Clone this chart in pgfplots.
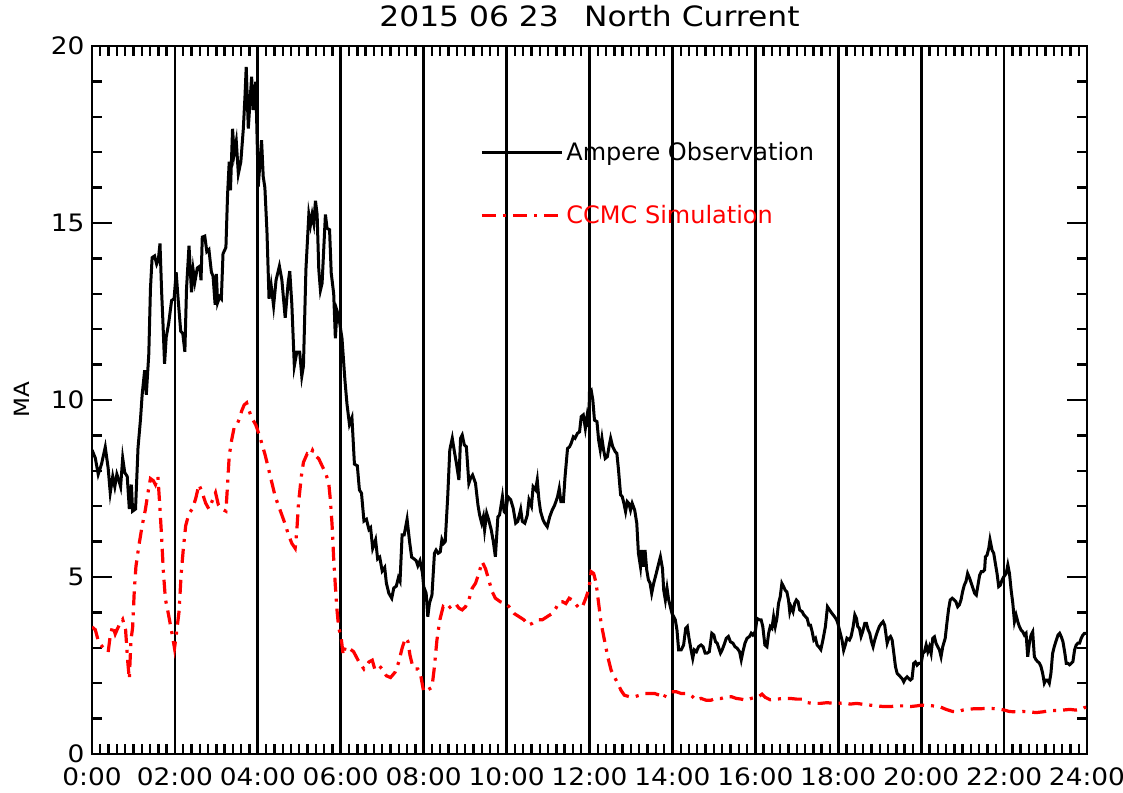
\documentclass[border=0pt]{standalone}
\usepackage{fontspec}
\setmainfont{DejaVu Sans}
\newfontfamily\tickfont{DejaVu Sans}[FakeStretch=1.1]
\newfontfamily\titlefont{DejaVu Sans}[FakeStretch=1.12]
\usepackage{pgfplots}
\usepackage{pgfplotstable}
\pgfplotsset{compat=1.18}

\pgfplotstableread{
h v
0 8.59
0.08 8.36
0.15 7.9
0.23 8.19
0.32 8.67
0.39 8.07
0.44 7.38
0.5 7.84
0.55 7.55
0.6 7.9
0.65 7.72
0.69 7.55
0.74 8.36
0.79 7.95
0.85 7.84
0.9 6.92
0.95 7.61
0.98 6.86
1.05 6.92
1.11 8.65
1.17 9.46
1.21 10.15
1.27 10.84
1.31 10.15
1.37 11.3
1.41 13.15
1.45 14.02
1.51 14.07
1.56 13.84
1.6 13.96
1.64 14.42
1.68 13.04
1.71 12.23
1.75 11.02
1.79 11.77
1.85 12.17
1.92 12.81
1.98 12.86
2.03 13.61
2.08 12.81
2.14 11.94
2.19 11.88
2.24 11.36
2.28 13.15
2.34 14.36
2.4 13.04
2.44 13.67
2.48 13.33
2.54 13.73
2.6 13.78
2.63 13.38
2.66 14.6
2.72 14.63
2.77 14.19
2.82 14.25
2.88 13.61
2.92 13.5
2.97 12.69
3.0 13.56
3.03 12.75
3.08 12.92
3.12 12.86
3.16 14.13
3.23 14.31
3.27 15.81
3.31 16.73
3.34 15.92
3.39 17.66
3.43 16.96
3.48 17.31
3.53 16.39
3.59 16.73
3.65 17.66
3.69 18.58
3.72 19.41
3.77 17.67
3.81 18.4
3.85 19.13
3.89 18.19
3.95 18.99
4.01 16.03
4.09 17.34
4.13 16.31
4.17 16.0
4.22 14.76
4.27 12.86
4.32 13.25
4.38 12.66
4.44 13.39
4.52 13.78
4.58 13.39
4.66 12.32
4.73 13.30
4.77 13.64
4.82 12.71
4.88 10.96
4.94 11.35
5.01 11.35
5.06 10.67
5.10 10.96
5.16 13.69
5.23 15.24
5.27 14.95
5.31 15.24
5.35 14.99
5.39 15.63
5.43 15.24
5.47 13.69
5.51 13.10
5.55 13.30
5.63 15.24
5.67 14.85
5.73 14.81
5.77 13.59
5.83 13.00
5.87 11.74
5.91 12.52
5.95 12.37
6.03 11.74
6.10 10.57
6.15 9.89
6.21 9.31
6.27 9.50
6.33 8.19
6.40 8.14
6.45 7.46
6.50 7.37
6.56 6.58
6.62 6.63
6.68 6.34
6.72 6.39
6.77 5.81
6.84 6.05
6.89 5.51
6.94 5.56
7.00 5.17
7.06 5.27
7.10 4.83
7.16 4.54
7.23 4.40
7.28 4.69
7.34 4.74
7.39 4.98
7.43 4.88
7.48 6.19
7.53 6.19
7.60 6.63
7.66 6.00
7.71 5.56
7.77 5.51
7.82 5.46
7.86 5.32
7.91 5.46
7.97 5.12
8.00 4.73
8.06 4.54
8.10 3.88
8.14 4.26
8.20 4.49
8.26 5.67
8.30 5.76
8.35 5.67
8.40 5.71
8.44 6.06
8.48 5.95
8.52 6.00
8.58 7.27
8.63 8.59
8.69 8.92
8.74 8.55
8.79 8.21
8.85 7.74
8.89 8.92
8.93 9.01
8.98 8.73
9.03 8.68
9.09 7.65
9.13 7.79
9.18 7.88
9.25 7.65
9.31 7.03
9.35 6.75
9.40 6.52
9.44 6.70
9.47 6.33
9.52 6.80
9.57 6.61
9.63 6.33
9.68 6.00
9.73 5.57
9.79 6.70
9.83 6.75
9.90 7.27
9.94 6.85
9.98 6.80
10.03 7.27
10.10 7.18
10.16 6.94
10.22 6.52
10.27 6.57
10.34 6.91
10.38 6.57
10.44 6.52
10.50 6.75
10.54 7.18
10.60 7.00
10.64 7.55
10.70 7.46
10.74 7.74
10.78 7.18
10.82 6.85
10.88 6.61
10.92 6.52
10.98 6.42
11.04 6.70
11.10 6.89
11.16 7.03
11.23 7.27
11.27 7.50
11.31 7.13
11.37 7.13
11.41 7.83
11.47 8.63
11.52 8.68
11.56 8.78
11.61 8.96
11.65 8.92
11.71 9.06
11.76 9.10
11.80 9.53
11.85 9.58
11.90 9.20
11.94 9.53
11.98 9.24
12.00 10.24
12.04 10.28
12.08 10.00
12.12 9.43
12.18 9.39
12.22 8.87
12.26 8.59
12.30 8.92
12.34 8.59
12.38 8.35
12.43 8.40
12.47 8.68
12.51 8.92
12.56 8.68
12.62 8.54
12.66 8.49
12.70 8.02
12.75 7.32
12.79 7.27
12.83 7.08
12.87 6.85
12.91 7.13
12.95 7.08
12.99 6.89
13.03 7.08
13.09 6.89
13.14 6.52
13.18 5.67
13.23 5.29
13.26 5.76
13.30 5.29
13.34 5.76
13.38 5.20
13.42 4.92
13.46 4.83
13.50 4.54
13.55 4.83
13.61 5.10
13.66 5.34
13.71 5.57
13.76 5.24
13.79 4.63
13.83 4.35
13.87 4.68
13.91 4.35
13.95 4.16
13.99 3.97
14.03 3.88
14.07 3.79
14.11 3.50
14.15 2.94
14.21 2.94
14.27 3.08
14.32 3.55
14.36 3.60
14.40 3.27
14.45 2.94
14.49 2.70
14.53 2.94
14.58 2.89
14.63 3.03
14.69 3.08
14.74 3.03
14.79 2.85
14.84 2.85
14.89 2.89
14.95 3.41
15.00 3.36
15.04 3.17
15.08 3.13
15.12 2.99
15.16 2.85
15.20 2.94
15.26 3.13
15.30 3.27
15.35 3.32
15.40 3.17
15.46 3.13
15.51 3.03
15.56 2.99
15.62 2.89
15.66 2.66
15.70 2.89
15.75 3.13
15.80 3.27
15.86 3.32
15.90 3.41
15.94 3.36
16.00 3.46
16.04 3.83
16.10 3.79
16.14 3.79
16.18 3.60
16.23 3.08
16.28 3.03
16.32 3.41
16.36 3.60
16.40 3.55
16.44 3.88
16.48 3.60
16.52 3.83
16.56 4.26
16.60 4.44
16.64 4.82
16.68 4.73
16.72 4.63
16.76 4.58
16.80 4.35
16.83 4.02
16.86 4.16
16.91 4.02
16.95 4.26
16.99 4.35
17.03 4.30
17.07 4.07
17.13 4.02
17.17 3.93
17.21 3.88
17.25 3.83
17.29 3.64
17.33 3.64
17.37 3.46
17.41 3.22
17.45 3.27
17.49 3.08
17.53 3.03
17.58 2.95
17.63 3.22
17.69 3.60
17.74 4.16
17.79 4.07
17.85 3.97
17.91 3.88
17.96 3.79
17.99 3.69
18.05 3.41
18.09 3.22
18.13 2.93
18.17 3.08
18.21 3.27
18.27 3.22
18.31 3.32
18.36 3.60
18.40 3.93
18.44 3.83
18.47 3.60
18.51 3.55
18.55 3.32
18.59 3.46
18.64 3.69
18.68 3.69
18.72 3.51
18.76 3.41
18.80 3.18
18.84 3.03
18.88 3.22
18.93 3.41
18.99 3.60
19.04 3.69
19.08 3.74
19.12 3.64
19.18 3.13
19.22 3.27
19.26 3.32
19.30 3.22
19.34 2.85
19.38 2.47
19.42 2.28
19.46 2.23
19.50 2.18
19.54 2.13
19.58 2.04
19.62 2.13
19.66 2.18
19.70 2.13
19.74 2.09
19.78 2.13
19.82 2.56
19.86 2.60
19.90 2.51
19.94 2.56
20.00 2.56
20.04 2.84
20.08 2.89
20.12 3.08
20.16 2.89
20.20 3.03
20.24 2.84
20.28 3.27
20.32 3.31
20.36 3.12
20.40 3.03
20.44 2.94
20.48 2.75
20.52 3.03
20.58 3.27
20.62 3.69
20.66 4.08
20.70 4.35
20.75 4.40
20.80 4.35
20.84 4.30
20.88 4.16
20.92 4.21
20.96 4.35
21.00 4.59
21.04 4.77
21.08 4.87
21.12 5.10
21.17 4.96
21.21 4.82
21.25 4.68
21.29 4.54
21.33 4.49
21.37 4.77
21.41 5.05
21.45 5.15
21.49 5.15
21.53 5.20
21.55 5.57
21.59 5.62
21.63 5.81
21.66 6.05
21.71 5.76
21.75 5.67
21.79 5.38
21.83 5.10
21.87 4.73
21.91 4.77
21.95 4.91
21.99 5.00
22.05 5.10
22.09 5.34
22.13 5.10
22.17 4.63
22.21 4.26
22.25 3.74
22.29 3.92
22.33 3.74
22.37 3.60
22.41 3.50
22.45 3.45
22.49 3.36
22.53 3.41
22.57 2.75
22.61 3.13
22.65 3.36
22.69 3.45
22.73 2.75
22.77 2.66
22.81 2.61
22.85 2.57
22.89 2.47
22.93 2.28
22.97 2.00
23.01 2.09
23.05 2.09
23.09 2.00
23.13 2.28
23.17 2.84
23.21 3.03
23.26 3.22
23.30 3.36
23.34 3.41
23.38 3.31
23.42 3.17
23.46 2.89
23.50 2.56
23.54 2.56
23.58 2.52
23.62 2.56
23.66 2.61
23.70 2.94
23.74 3.08
23.78 3.13
23.82 3.13
23.86 3.27
23.90 3.36
23.94 3.41
23.98 3.41
}\obs

\pgfplotstableread{
h v
0 3.59
0.08 3.51
0.16 3.16
0.28 2.99
0.39 2.88
0.44 3.34
0.5 3.63
0.56 3.39
0.65 3.63
0.74 3.8
0.81 3.51
0.86 2.64
0.9 2.12
0.94 3.22
0.98 3.57
1.02 4.61
1.06 5.3
1.13 5.88
1.21 6.45
1.29 6.92
1.35 7.38
1.41 7.78
1.48 7.72
1.53 7.61
1.59 7.84
1.64 6.92
1.68 6.11
1.72 5.18
1.77 4.38
1.85 3.91
1.94 3.34
1.99 2.99
2.03 3.34
2.1 4.03
2.15 5.07
2.2 5.76
2.26 6.45
2.34 6.8
2.42 6.92
2.5 7.21
2.58 7.61
2.66 7.38
2.74 7.09
2.82 6.92
2.9 7.15
2.98 7.38
3.05 7.03
3.13 6.92
3.23 6.86
3.27 7.61
3.31 8.42
3.37 8.88
3.43 9.23
3.49 9.28
3.55 9.46
3.61 9.69
3.67 9.86
3.73 9.92
3.79 9.69
3.87 9.46
3.95 9.3
4.06 8.92
4.18 8.43
4.3 7.85
4.42 7.27
4.54 6.88
4.66 6.49
4.74 6.19
4.82 5.95
4.9 5.81
4.94 6.3
4.98 7.07
5.05 7.85
5.1 8.24
5.19 8.48
5.27 8.43
5.32 8.58
5.39 8.43
5.47 8.34
5.55 8.14
5.63 7.95
5.71 7.66
5.75 7.17
5.79 6.49
5.83 5.51
5.87 4.74
5.91 4.06
5.95 3.57
6.01 3.28
6.06 2.79
6.11 3.03
6.21 2.98
6.31 2.89
6.44 2.6
6.56 2.4
6.68 2.6
6.76 2.65
6.82 2.4
6.92 2.5
7.0 2.4
7.1 2.21
7.2 2.16
7.31 2.31
7.4 2.6
7.48 2.99
7.56 3.28
7.62 3.18
7.67 2.79
7.73 2.5
7.79 2.4
7.86 2.4
7.93 2.21
8.0 1.76
8.08 1.8
8.2 1.88
8.26 2.47
8.32 3.22
8.39 3.79
8.47 4.16
8.56 4.07
8.69 4.21
8.77 4.25
8.85 4.12
8.93 4.07
9.01 4.16
9.09 4.35
9.17 4.68
9.25 4.82
9.33 5.1
9.41 5.43
9.49 5.24
9.57 4.92
9.65 4.59
9.73 4.4
9.85 4.3
9.98 4.25
10.06 4.16
10.18 3.97
10.3 3.88
10.42 3.79
10.52 3.64
10.62 3.69
10.74 3.79
10.86 3.79
10.98 3.88
11.1 3.97
11.19 4.12
11.27 4.3
11.35 4.3
11.43 4.25
11.51 4.4
11.59 4.35
11.67 4.23
11.75 4.12
11.83 4.16
11.91 4.4
11.99 4.68
12.04 5.15
12.1 5.1
12.16 4.82
12.22 4.26
12.28 3.69
12.36 3.22
12.44 2.75
12.52 2.37
12.6 2.18
12.68 2.0
12.76 1.8
12.84 1.66
12.96 1.62
13.09 1.62
13.21 1.66
13.33 1.71
13.45 1.71
13.57 1.71
13.69 1.66
13.79 1.57
13.85 1.71
13.97 1.76
14.09 1.76
14.21 1.71
14.33 1.71
14.45 1.66
14.57 1.52
14.69 1.57
14.81 1.52
14.93 1.52
15.05 1.57
15.18 1.57
15.3 1.62
15.42 1.62
15.54 1.57
15.66 1.55
15.78 1.52
15.9 1.57
16.0 1.6
16.08 1.62
16.16 1.69
16.24 1.6
16.36 1.53
16.52 1.55
16.68 1.57
16.84 1.57
17.0 1.55
17.13 1.55
17.25 1.45
17.41 1.43
17.57 1.43
17.73 1.45
17.89 1.43
18.01 1.43
18.13 1.45
18.29 1.41
18.45 1.43
18.61 1.4
18.77 1.38
18.93 1.36
19.09 1.34
19.26 1.34
19.42 1.36
19.58 1.36
19.74 1.34
19.9 1.36
20.0 1.38
20.12 1.37
20.28 1.36
20.44 1.34
20.6 1.26
20.76 1.2
20.88 1.19
21.0 1.24
21.12 1.26
21.29 1.28
21.45 1.28
21.61 1.29
21.77 1.28
21.93 1.26
22.01 1.24
22.13 1.2
22.29 1.19
22.45 1.2
22.61 1.19
22.77 1.17
22.93 1.19
23.09 1.22
23.26 1.23
23.42 1.24
23.58 1.26
23.74 1.24
23.86 1.26
23.94 1.31
23.98 1.32
}\sim

\begin{document}
\begin{tikzpicture}
\useasboundingbox (0,0) rectangle (1123bp,793bp);
\begin{axis}[
  at={(92bp,39bp)}, anchor=south west,
  scale only axis, width=995bp, height=708bp,
  xmin=0, xmax=24, ymin=0, ymax=20,
  xtick={0,2,4,6,8,10,12,14,16,18,20,22,24},
  xticklabels={0:00,02:00,04:00,06:00,08:00,10:00,12:00,14:00,16:00,18:00,20:00,22:00,24:00},
  ytick={0,5,10,15,20},
  yticklabels={0,5,10,15,20},
  minor x tick num=9,
  minor y tick num=4,
  xtick pos=both, ytick pos=both,
  xticklabel pos=lower, yticklabel pos=left,
  tick align=inside,
  major tick length=20bp,
  minor tick length=10bp,
  every tick/.style={black, line width=2.4bp},
  axis line style={line width=2.8bp},
  xmajorgrids,
  major grid style={black, line width=2.8bp},
  ticklabel style={font=\fontsize{24bp}{28bp}\tickfont},
  xticklabel style={inner sep=0pt, anchor=north, yshift=-13bp},
  yticklabel style={xshift=-4bp},
  ylabel={MA},
  ylabel style={font=\fontsize{21bp}{24bp}\tickfont, at={(axis description cs:-0.0704,0.5)}, anchor=center},
  title={2015 06 23\hspace{0.9em}North Current},
  title style={font=\fontsize{28bp}{32bp}\titlefont, at={(axis description cs:0.5,1)}, anchor=center, yshift=24bp},
  legend style={at={(rel axis cs:0.390,0.868)}, anchor=north west, draw=none, fill=none,
    font=\fontsize{24bp}{28bp}\selectfont, row sep=37bp, column sep=0bp,
    inner sep=0pt, nodes={inner sep=3bp}},
  legend cell align=left,
  legend image code/.code={\draw[#1] (0bp,0bp) -- (80bp,0bp);},
]
\addplot[black, line width=3bp] table[x=h,y=v] {\obs};
\addlegendentry{Ampere Observation}
\addplot[red, line width=3.2bp, dash pattern=on 14bp off 7bp on 3bp off 7bp] table[x=h,y=v] {\sim};
\addlegendentry{\textcolor{red}{CCMC Simulation}}
\end{axis}
\end{tikzpicture}
\end{document}
